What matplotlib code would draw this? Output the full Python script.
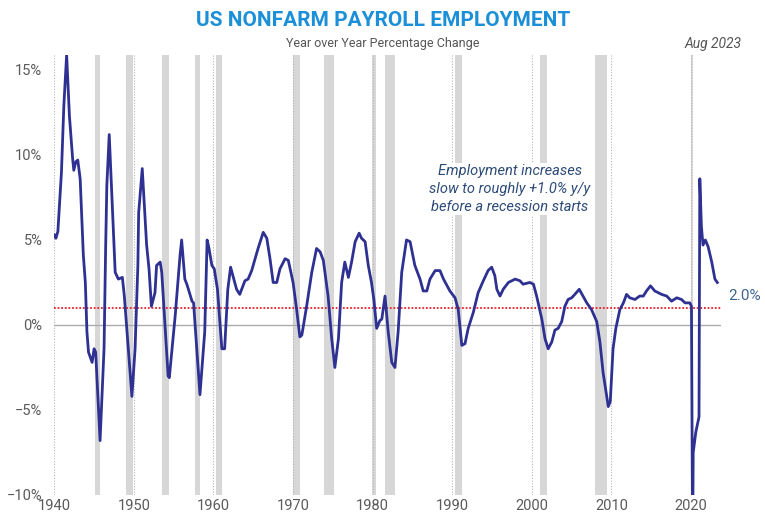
import matplotlib
matplotlib.use('Agg')
import matplotlib.pyplot as plt

# Year-over-year % change in US nonfarm payrolls.
years = [1940.0, 1940.2, 1940.45, 1940.9, 1941.2, 1941.55, 1941.9, 1942.3, 1942.45, 1942.7,
         1942.95, 1943.25, 1943.65, 1943.9, 1944.1, 1944.3, 1944.75, 1945.0, 1945.2, 1945.75,
         1946.25, 1946.45, 1946.6, 1946.9, 1947.4, 1947.65, 1948.05, 1948.55, 1948.8, 1949.4,
         1949.75, 1950.15, 1950.5, 1950.6, 1951.05, 1951.6, 1951.9, 1952.2, 1952.65, 1952.85,
         1953.3, 1953.5, 1954.3, 1954.45, 1955.2, 1955.8, 1956.0, 1956.4, 1956.65, 1956.85,
         1957.3, 1957.5, 1958.3, 1958.9, 1959.2, 1959.4, 1959.8, 1960.1, 1960.5, 1961.05,
         1961.4, 1961.8, 1962.15, 1962.9, 1963.3, 1963.95, 1964.35, 1964.8, 1965.6, 1966.25,
         1966.7, 1967.1, 1967.5, 1967.95, 1968.35, 1969.0, 1969.4, 1970.0, 1970.45, 1970.85,
         1971.1, 1971.7, 1972.35, 1972.95, 1973.4, 1973.8, 1974.4, 1974.85, 1975.25, 1975.7,
         1976.1, 1976.5, 1976.95, 1977.35, 1977.8, 1978.3, 1978.6, 1979.05, 1979.45, 1979.85,
         1980.15, 1980.5, 1980.9, 1981.15, 1981.55, 1981.95, 1982.4, 1982.8, 1983.2, 1983.65,
         1984.25, 1984.7, 1985.3, 1985.95, 1986.35, 1986.8, 1987.2, 1987.85, 1988.45, 1988.9,
         1989.7, 1990.35, 1990.75, 1991.2, 1991.6, 1992.0, 1992.65, 1993.25, 1993.9, 1994.5,
         1994.95, 1995.35, 1995.6, 1996.0, 1996.4, 1997.05, 1997.9, 1998.5, 1998.9, 1999.75,
         2000.2, 2000.6, 2001.25, 2001.65, 2002.05, 2002.5, 2002.9, 2003.3, 2003.75, 2004.15,
         2004.55, 2005.0, 2005.4, 2005.95, 2006.9, 2007.5, 2008.15, 2008.55, 2008.95, 2009.4,
         2009.6, 2009.85, 2010.2, 2010.55, 2011.05, 2011.5, 2011.9, 2012.3, 2012.95, 2013.55,
         2014.0, 2014.4, 2014.9, 2015.45, 2016.3, 2016.95, 2017.55, 2018.2, 2018.8, 2019.25,
         2019.85, 2020.05, 2020.2, 2020.27, 2020.6, 2021.0, 2021.1, 2021.3, 2021.5, 2021.8,
         2022.15, 2022.6, 2023.0, 2023.3]
yoy = [5.3, 5.1, 5.5, 9.0, 12.9, 15.9, 12.3, 9.8, 9.1, 9.6,
       9.7, 8.6, 4.1, 2.5, -0.4, -1.6, -2.2, -1.4, -1.6, -6.8,
       -1.4, 4.5, 8.2, 11.2, 5.8, 3.1, 2.7, 2.8, 1.7, -2.0,
       -4.2, -1.4, 3.5, 6.6, 9.2, 4.7, 3.3, 1.1, 1.9, 3.5,
       3.7, 3.1, -3.0, -3.1, 0.6, 4.1, 5.0, 2.7, 2.4, 2.1,
       1.4, 1.3, -4.1, -0.4, 5.0, 4.6, 3.5, 3.3, 2.1, -1.4,
       -1.4, 2.1, 3.4, 2.1, 1.8, 2.6, 2.7, 3.2, 4.5, 5.45,
       5.1, 3.9, 2.5, 2.5, 3.3, 3.9, 3.8, 2.5, 0.9, -0.7,
       -0.6, 1.1, 3.1, 4.5, 4.3, 3.8, 1.7, -0.8, -2.5, -0.8,
       2.5, 3.7, 2.8, 3.7, 4.9, 5.4, 5.1, 4.9, 3.5, 2.5,
       1.5, -0.2, 0.25, 0.35, 1.7, -0.4, -2.2, -2.5, -0.4, 3.1,
       5.0, 4.9, 3.5, 2.7, 2.0, 2.0, 2.7, 3.2, 3.2, 2.7,
       2.0, 1.6, 0.9, -1.2, -1.1, -0.2, 0.75, 1.9, 2.6, 3.2,
       3.4, 2.9, 2.1, 1.7, 2.1, 2.5, 2.7, 2.6, 2.4, 2.5,
       2.4, 1.7, 0.35, -0.8, -1.4, -1.0, -0.3, -0.2, 0.2, 1.1,
       1.5, 1.6, 1.8, 2.1, 1.3, 0.9, 0.2, -1.0, -2.8, -4.2,
       -4.8, -4.5, -1.4, -0.2, 0.9, 1.3, 1.8, 1.6, 1.5, 1.7,
       1.7, 2.0, 2.3, 2.0, 1.8, 1.7, 1.4, 1.6, 1.5, 1.3,
       1.3, 1.1, -13.0, -7.5, -6.3, -5.4, 8.6, 5.8, 4.7, 5.0,
       4.6, 3.7, 2.7, 2.5]

# NBER recessions (start, end)
rec_start = [1945.1, 1948.95, 1953.55, 1957.65, 1960.35, 1969.95, 1973.9, 1979.95, 1981.55,
             1990.4, 2001.05, 2007.9, 2020.05]
rec_end = [1945.8, 1949.9, 1954.35, 1958.25, 1961.1, 1970.9, 1975.2, 1980.45, 1982.85,
           1991.2, 2001.85, 2009.45, 2020.25]

decades = [1940, 1950, 1960, 1970, 1980, 1990, 2000, 2010, 2020]
yticks = [-10, -5, 0, 5, 10, 15]
ytick_labels = ['\u221210%', '\u22125%', '0%', '5%', '10%', '15%']
threshold = 1.0

plt.rcParams['font.family'] = ['Roboto', 'DejaVu Sans']

fig = plt.figure(figsize=(7.65, 5.14), dpi=100)
ax = fig.add_axes([53.5 / 765, 19 / 514, 667 / 765, 440 / 514])

# Recession shading and decade gridlines
for s, e in zip(rec_start, rec_end):
    ax.axvspan(s, e, color='#d7d7d7', lw=0, zorder=0)
for d in decades:
    ax.axvline(d, color='#b5b5b5', lw=0.8, ls=(0, (1, 1.5)), zorder=0.5)

ax.axhline(0, color='#ababab', lw=1, zorder=1)
ax.axhline(threshold, color='#e8202a', lw=1.3, ls=(0, (1, 1)), zorder=2)

ax.plot(years, yoy, color='#2e3192', lw=2, zorder=3, solid_joinstyle='round')

ax.set_xlim(1939.9, 2023.7)
ax.set_ylim(-10, 15.88)
ax.set_xticks(decades)
ax.set_xticklabels([str(d) for d in decades])
ax.set_yticks(yticks)
ax.set_yticklabels(ytick_labels)
ax.tick_params(axis='both', length=0, labelsize=10.5, colors='#5a5a5a')
ax.tick_params(axis='x', pad=3)
ax.tick_params(axis='y', pad=8)
for sp in ax.spines.values():
    sp.set_visible(False)

# Titles and notes
fig.text(383 / 765, 1 - 20 / 514, 'US NONFARM PAYROLL EMPLOYMENT', ha='center', va='center',
         fontsize=15, fontweight='bold', color='#1b8fd8')
fig.text(383 / 765, 1 - 44 / 514, 'Year over Year Percentage Change', ha='center', va='center',
         fontsize=9, color='#555555')
fig.text(713 / 765, 1 - 44 / 514, 'Aug 2023', ha='center', va='center',
         fontsize=10, style='italic', color='#555555')
fig.text(510 / 765, 1 - 189 / 514,
         'Employment increases\nslow to roughly +1.0% y/y\nbefore a recession starts',
         ha='center', va='center', fontsize=10.5, style='italic', color='#2b4a78',
         linespacing=1.35,
         bbox=dict(facecolor='white', edgecolor='none', pad=1))
fig.text(728 / 765, 1 - 296 / 514, '2.0%', ha='left', va='center',
         fontsize=11, color='#3d6591')

plt.savefig('out.png', dpi=100)
